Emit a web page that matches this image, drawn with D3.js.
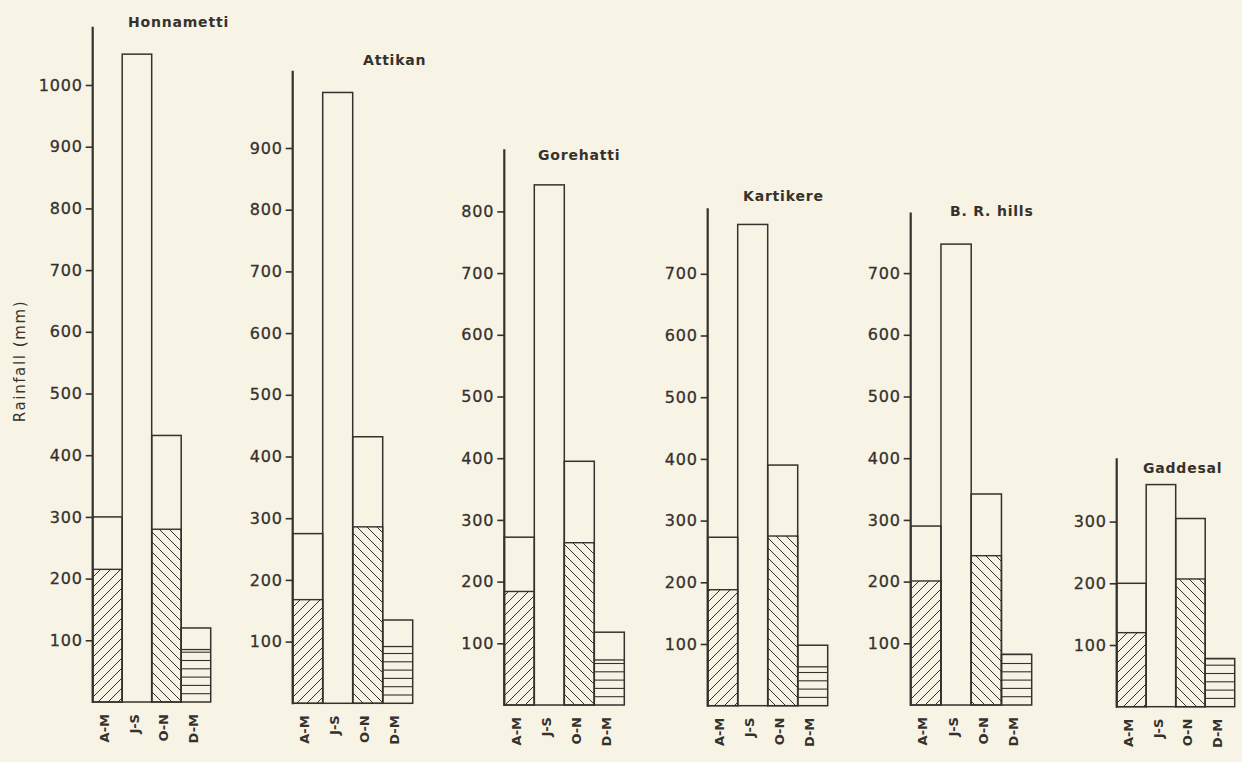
<!DOCTYPE html>
<html><head><meta charset="utf-8">
<script src="https://cdn.jsdelivr.net/npm/d3@7"></script>
<style>
html,body{margin:0;padding:0;background:#f7f3e5;}
svg{display:block}
</style></head><body>
<svg id="chart" width="1242" height="762"></svg>
<script>
// ---- data ----
const stations = ["Honnametti", "Attikan", "Gorehatti", "Kartikere", "B. R. hills", "Gaddesal"];
const seasons = ["A-M", "J-S", "O-N", "D-M"];
const totalRain = [
  [300, 1050, 432, 120],
  [275, 990, 432, 135],
  [272, 843, 395, 118],
  [273, 780, 390, 98],
  [290, 747, 342, 82],
  [200, 360, 305, 78]
];
const hatchedRain = [
  [215, null, 280, 85],
  [168, null, 286, 92],
  [184, null, 263, 73],
  [188, null, 275, 63],
  [201, null, 242, 82],
  [120, null, 207, 78]
];
const tickValues = [
  [100, 200, 300, 400, 500, 600, 700, 800, 900, 1000],
  [100, 200, 300, 400, 500, 600, 700, 800, 900],
  [100, 200, 300, 400, 500, 600, 700, 800],
  [100, 200, 300, 400, 500, 600, 700],
  [100, 200, 300, 400, 500, 600, 700],
  [100, 200, 300]
];
const yTitle = "Rainfall (mm)";

// ---- layout (positions only) ----
const axisX = [92.7, 292.7, 504.3, 707.7, 910.7, 1116.7];
const panelW = [118, 120, 120, 120, 121, 118];
const baseY = [702, 703.3, 705, 705.7, 705, 706.7];
const axisTopY = [26.7, 70.7, 149.3, 208.3, 212.6, 458.3];
const titlePos = [[128, 27], [363, 65], [538, 160], [743, 201], [950, 216], [1143, 473]];
const pxPerUnit = 0.617;
const hLineStep = 8.3;
const ink = "#35312d";
const paper = "#f7f3e5";

const svg = d3.select("#chart");
svg.append("rect").attr("width", 1242).attr("height", 762).attr("fill", paper);
const defs = svg.append("defs");
function hatch(id, d) {
  defs.append("pattern").attr("id", id).attr("patternUnits", "userSpaceOnUse")
    .attr("width", 10).attr("height", 10)
    .append("path").attr("d", d).attr("stroke", ink).attr("stroke-width", 1).attr("fill", "none");
}
hatch("fwd", "M-2.5,2.5L2.5,-2.5M0,10L10,0M7.5,12.5L12.5,7.5");
hatch("back", "M-2.5,7.5L2.5,12.5M0,0L10,10M7.5,-2.5L12.5,2.5");

stations.forEach((name, i) => {
  const g = svg.append("g");
  const base = baseY[i];
  const y = d3.scaleLinear().domain([0, 1000]).range([base, base - 1000 * pxPerUnit]);
  const x = d3.scaleBand().domain(seasons).range([axisX[i], axisX[i] + panelW[i]]).padding(0);
  const bw = x.bandwidth();

  const bars = seasons.map((s, j) => ({ s, j, total: totalRain[i][j], hatched: hatchedRain[i][j] }));

  bars.forEach(b => {
    const x0 = x(b.s);
    // hatched portion
    if (b.hatched != null) {
      if (b.j === 0 || b.j === 2) {
        g.append("rect").attr("x", x0).attr("y", y(b.hatched)).attr("width", bw)
          .attr("height", base - y(b.hatched))
          .attr("fill", b.j === 0 ? "url(#fwd)" : "url(#back)")
          .attr("stroke", ink).attr("stroke-width", 1.4);
      } else {
        const top = y(b.hatched);
        const ks = d3.range(1, 200).filter(k => base - k * hLineStep > top + 1);
        g.selectAll(null).data(ks).enter().append("line")
          .attr("x1", x0).attr("x2", x0 + bw)
          .attr("y1", k => base - k * hLineStep).attr("y2", k => base - k * hLineStep)
          .attr("stroke", ink).attr("stroke-width", 1.1);
        g.append("line").attr("x1", x0).attr("x2", x0 + bw)
          .attr("y1", top).attr("y2", top).attr("stroke", ink).attr("stroke-width", 1.3);
      }
    }
    g.append("rect").attr("x", x0).attr("y", y(b.total)).attr("width", bw)
      .attr("height", base - y(b.total)).attr("fill", "none")
      .attr("stroke", ink).attr("stroke-width", 1.5);
  });

  // axis
  const axis = d3.axisLeft(y).tickValues(tickValues[i]).tickSize(7).tickPadding(3).tickFormat(d3.format("d"));
  const ag = g.append("g").attr("transform", `translate(${axisX[i]},0)`).call(axis);
  ag.select(".domain").remove();
  ag.selectAll(".tick line").attr("stroke", ink).attr("stroke-width", 1.6);
  ag.selectAll(".tick text").attr("fill", ink).attr("stroke", ink).attr("stroke-width", 0.3)
    .style("font-family", "'DejaVu Sans', sans-serif").style("font-size", "16px")
    .style("letter-spacing", "0.8px");
  g.append("line").attr("x1", axisX[i]).attr("x2", axisX[i])
    .attr("y1", base + 1).attr("y2", axisTopY[i]).attr("stroke", ink).attr("stroke-width", 2.2);

  // category labels
  g.selectAll(null).data(seasons).enter().append("text")
    .attr("transform", s => `translate(${x(s) + bw / 2 - 3},${base + 12}) rotate(-90)`)
    .attr("text-anchor", "end").attr("dy", "0.35em")
    .attr("fill", ink)
    .style("font-family", "'DejaVu Sans', sans-serif").style("font-size", "13px").style("font-weight", "bold")
    .text(s => s);

  // title
  g.append("text").attr("x", titlePos[i][0]).attr("y", titlePos[i][1])
    .attr("fill", ink)
    .style("font-family", "'DejaVu Sans', sans-serif").style("font-size", "14px").style("font-weight", "bold")
    .style("letter-spacing", "0.8px")
    .text(name);
});

svg.append("text").attr("transform", "translate(20,361) rotate(-90)")
  .attr("text-anchor", "middle").attr("dy", "0.35em").attr("fill", ink)
  .style("font-family", "'DejaVu Sans', sans-serif").style("font-size", "15px")
  .style("letter-spacing", "1.6px")
  .text(yTitle);
</script></body></html>
